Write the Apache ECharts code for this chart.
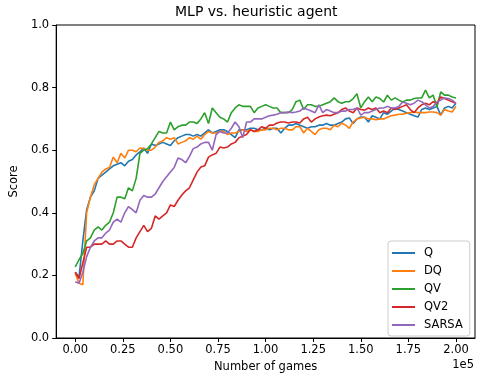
<!DOCTYPE html>
<html>
<head>
<meta charset="utf-8">
<script src="https://cdn.jsdelivr.net/npm/echarts@6/dist/echarts.min.js"></script>
<style>html,body{margin:0;padding:0;background:#fff;}#c{width:480px;height:379px;}</style>
</head>
<body>
<div id="c"></div>
<script>
// Number of games (every 2000 games)
const games = Array.from({length: 101}, (_, i) => i * 2000);
const xTicks = [0, 25000, 50000, 75000, 100000, 125000, 150000, 175000, 200000];
const yTicks = [0, 0.2, 0.4, 0.6, 0.8, 1.0];
const seriesNames = ['Q', 'DQ', 'QV', 'QV2', 'SARSA'];
const colors = ['#1f77b4', '#ff7f0e', '#2ca02c', '#d62728', '#9467bd'];

const qScore = [0.21,0.195,0.31,0.41,0.45,0.47,0.51,0.52,0.53,0.54,0.55,0.555,0.56,0.55,0.565,0.57,0.585,0.595,0.607,0.59,
0.62,0.615,0.62,0.625,0.62,0.615,0.63,0.64,0.645,0.65,0.65,0.645,0.65,0.645,0.655,0.665,0.655,0.66,0.665,0.665,
0.66,0.65,0.64,0.665,0.665,0.665,0.67,0.67,0.665,0.665,0.67,0.665,0.67,0.67,0.655,0.67,0.68,0.68,0.685,0.68,
0.675,0.67,0.675,0.675,0.68,0.68,0.685,0.68,0.68,0.685,0.69,0.70,0.703,0.685,0.70,0.706,0.705,0.69,0.71,0.705,
0.70,0.72,0.715,0.725,0.735,0.73,0.725,0.72,0.715,0.71,0.706,0.73,0.735,0.73,0.735,0.74,0.712,0.735,0.74,0.735,0.75];

const dqScore = [0.207,0.175,0.17,0.40,0.45,0.49,0.51,0.53,0.54,0.545,0.578,0.56,0.59,0.575,0.60,0.60,0.595,0.607,0.605,0.60,
0.60,0.61,0.625,0.63,0.64,0.635,0.64,0.62,0.625,0.63,0.64,0.635,0.645,0.635,0.65,0.66,0.655,0.655,0.66,0.66,
0.65,0.655,0.655,0.66,0.665,0.66,0.665,0.66,0.66,0.665,0.665,0.67,0.67,0.665,0.67,0.67,0.665,0.665,0.675,0.675,
0.655,0.67,0.66,0.65,0.665,0.67,0.67,0.665,0.68,0.675,0.687,0.68,0.67,0.69,0.70,0.703,0.705,0.70,0.70,0.697,
0.70,0.70,0.705,0.71,0.712,0.715,0.715,0.718,0.72,0.722,0.72,0.72,0.72,0.722,0.722,0.72,0.712,0.73,0.725,0.722,0.74];

const qvScore = [0.227,0.25,0.27,0.31,0.32,0.345,0.355,0.345,0.36,0.37,0.40,0.45,0.45,0.445,0.48,0.47,0.51,0.59,0.60,0.605,
0.62,0.64,0.66,0.655,0.655,0.69,0.665,0.675,0.68,0.68,0.69,0.69,0.685,0.70,0.72,0.685,0.735,0.72,0.705,0.70,
0.69,0.72,0.735,0.745,0.74,0.74,0.74,0.72,0.735,0.74,0.745,0.74,0.735,0.735,0.72,0.72,0.72,0.73,0.755,0.76,
0.73,0.745,0.745,0.74,0.74,0.745,0.75,0.755,0.767,0.755,0.75,0.755,0.755,0.765,0.78,0.735,0.755,0.77,0.755,0.77,
0.765,0.754,0.776,0.76,0.767,0.76,0.754,0.76,0.76,0.765,0.767,0.767,0.792,0.767,0.776,0.738,0.786,0.776,0.776,0.77,0.767];

const qv2Score = [0.21,0.19,0.24,0.29,0.29,0.30,0.30,0.30,0.31,0.30,0.30,0.31,0.31,0.30,0.29,0.29,0.32,0.34,0.36,0.34,
0.35,0.39,0.38,0.39,0.40,0.425,0.42,0.44,0.457,0.47,0.48,0.505,0.53,0.546,0.55,0.578,0.585,0.59,0.61,0.607,
0.61,0.62,0.625,0.64,0.645,0.65,0.665,0.66,0.665,0.675,0.67,0.68,0.68,0.687,0.69,0.69,0.687,0.69,0.69,0.687,
0.70,0.705,0.69,0.70,0.706,0.71,0.712,0.71,0.715,0.72,0.73,0.735,0.725,0.72,0.735,0.73,0.728,0.735,0.73,0.735,
0.72,0.725,0.72,0.735,0.73,0.735,0.74,0.745,0.73,0.72,0.735,0.745,0.75,0.745,0.755,0.75,0.77,0.765,0.76,0.755,0.75];

const sarsaScore = [0.18,0.175,0.21,0.26,0.29,0.31,0.32,0.32,0.335,0.345,0.37,0.38,0.37,0.40,0.42,0.41,0.40,0.44,0.455,0.45,
0.45,0.46,0.48,0.50,0.515,0.53,0.545,0.575,0.57,0.56,0.58,0.605,0.61,0.62,0.625,0.625,0.60,0.65,0.66,0.655,
0.655,0.67,0.69,0.675,0.64,0.69,0.69,0.70,0.70,0.70,0.705,0.71,0.712,0.715,0.72,0.72,0.722,0.72,0.722,0.725,
0.735,0.73,0.725,0.72,0.745,0.72,0.73,0.725,0.72,0.72,0.725,0.725,0.73,0.73,0.735,0.712,0.72,0.72,0.725,0.73,
0.735,0.735,0.74,0.735,0.735,0.74,0.754,0.75,0.745,0.75,0.76,0.755,0.745,0.735,0.74,0.754,0.76,0.767,0.765,0.76,0.75];

const allScores = [qScore, dqScore, qvScore, qv2Score, sarsaScore];

const chart = echarts.init(document.getElementById('c'), null, {renderer: 'canvas'});
const font = 'DejaVu Sans';
const fs = 11.5;
chart.setOption({
  animation: false,
  backgroundColor: '#fff',
  grid: {left: 55, top: 25, width: 420, height: 313, show: true, borderColor: '#000', borderWidth: 1, backgroundColor: 'transparent'},
  graphic: [
    {type: 'text', left: 265 - 90, top: 5, style: {text: 'MLP vs. heuristic agent', font: '14px "DejaVu Sans"', fill: '#000', width: 180, align: 'center'}},
    {type: 'text', right: 6, top: 359, style: {text: '1e5', font: fs + 'px "DejaVu Sans"', fill: '#000'}}
  ],
  xAxis: {
    type: 'value', min: -10000, max: 210000,
    name: 'Number of games', nameLocation: 'middle', nameGap: 23,
    nameTextStyle: {fontFamily: font, fontSize: fs, color: '#000'},
    axisLine: {show: true, onZero: false, lineStyle: {color: '#000', width: 1}},
    axisTick: {show: true, length: 4, customValues: xTicks, lineStyle: {color: '#000'}},
    axisLabel: {customValues: xTicks, fontFamily: font, fontSize: fs, color: '#000', margin: 6,
      formatter: v => (v / 1e5).toFixed(2)},
    splitLine: {show: false}
  },
  yAxis: {
    type: 'value', min: 0, max: 1, interval: 0.2,
    name: 'Score', nameLocation: 'middle', nameGap: 27,
    nameTextStyle: {fontFamily: font, fontSize: fs, color: '#000'},
    axisLine: {show: true, onZero: false, lineStyle: {color: '#000', width: 1}},
    axisTick: {show: true, length: 4, lineStyle: {color: '#000'}},
    axisLabel: {fontFamily: font, fontSize: fs, color: '#000', margin: 7, formatter: v => v.toFixed(1)},
    splitLine: {show: false}
  },
  legend: {
    orient: 'vertical', left: 388, top: 241,
    backgroundColor: 'rgba(255,255,255,0.8)', borderColor: '#cccccc', borderWidth: 1, borderRadius: 3,
    padding: [6, 7, 5, 4], itemGap: 6, itemWidth: 23, itemHeight: 2, icon: 'rect',
    textStyle: {fontFamily: font, fontSize: fs, color: '#000', padding: [0, 0, 0, 4], lineHeight: 12},
    data: seriesNames
  },
  series: seriesNames.map((n, k) => ({
    name: n, type: 'line', showSymbol: false, symbol: 'none',
    data: games.map((g, i) => [g, allScores[k][i]]),
    lineStyle: {color: colors[k], width: 1.6}, itemStyle: {color: colors[k]}
  }))
});
</script>
</body>
</html>
